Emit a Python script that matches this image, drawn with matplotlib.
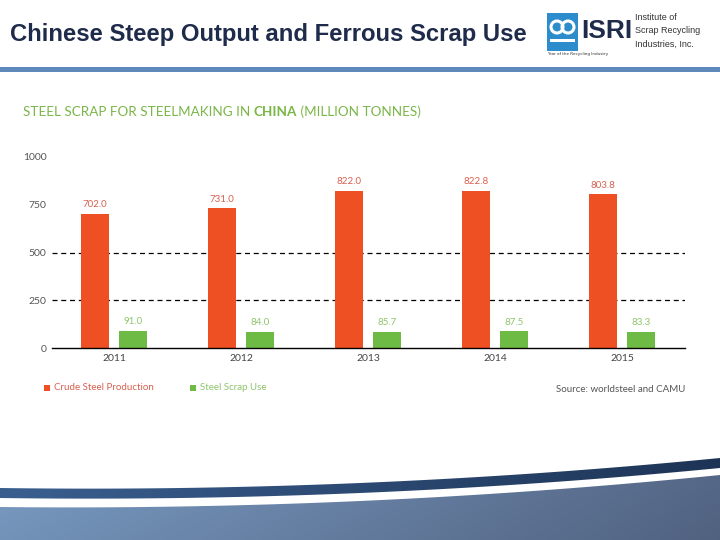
import numpy as np
import matplotlib
matplotlib.use("Agg")
import matplotlib.pyplot as plt
from matplotlib.patches import Rectangle, Circle, Polygon

# ---- data ----
years = ["2011", "2012", "2013", "2014", "2015"]
crude_steel = [702.0, 731.0, 822.0, 822.8, 803.8]
scrap_use = [91.0, 84.0, 85.7, 87.5, 83.3]
crude_labels = ["702.0", "731.0", "822.0", "822.8", "803.8"]
scrap_labels = ["91.0", "84.0", "85.7", "87.5", "83.3"]
y_ticks = [0, 250, 500, 750, 1000]
grid_vals = [250, 500]

RED = "#ee4f23"
GREEN = "#6dbb45"
RED_TXT = "#d8604f"
GREEN_TXT = "#8dc56b"
NAVY = "#1f2b4a"

W, H = 720, 540
fig = plt.figure(figsize=(7.2, 5.4), dpi=100)
fig.patch.set_facecolor("white")

# overlay axes in pixel coordinates for page decorations
bg = fig.add_axes([0, 0, 1, 1], zorder=0)
bg.set_xlim(0, W)
bg.set_ylim(H, 0)
bg.axis("off")

# header title
fig.text(10 / W, 1 - 35 / H, "Chinese Steep Output and Ferrous Scrap Use",
         fontsize=17.2, fontweight="bold", color=NAVY, family="Liberation Sans",
         va="center", ha="left")

# logo
bg.add_patch(Rectangle((547, 13), 31, 38, facecolor="#2c8ccc", edgecolor="none"))
bg.add_patch(Circle((557, 27), 6, facecolor="none", edgecolor="white", lw=2.2))
bg.add_patch(Circle((568, 27), 6, facecolor="none", edgecolor="white", lw=2.2))
bg.add_patch(Rectangle((550, 39), 25, 2.5, facecolor="white", edgecolor="none"))
fig.text(581 / W, 1 - 31 / H, "ISRI", fontsize=19, fontweight="bold",
         color=NAVY, family=["Liberation Sans Narrow", "Liberation Sans"],
         va="center", ha="left")
fig.text(547 / W, 1 - 54 / H, "Year of the Recycling Industry", fontsize=3,
         color="#333333", va="center", ha="left")
for i, line in enumerate(["Institute of", "Scrap Recycling", "Industries, Inc."]):
    fig.text(635 / W, 1 - (18 + 13 * i) / H, line, fontsize=6.5, color="#333333",
             family="Liberation Sans", va="center", ha="left")

# blue rule under header
bg.add_patch(Rectangle((0, 67), W, 5, facecolor="#5f88bb", edgecolor="none"))

# bottom swoosh
xs = np.linspace(0, W, 200)
t = xs / W
band_top = 488 + 10 * t - 40 * t ** 2
band_bot = band_top + 10
low_top = 507 + 8 * t - 40 * t ** 2

gx = np.linspace(0, 1, 300)
gy = np.linspace(0, 1, 60)
GX, GY = np.meshgrid(gx, gy)
c_left = np.array([122, 156, 196]) / 255
c_right = np.array([86, 104, 136]) / 255
img = c_left[None, None, :] * (1 - GX[..., None]) + c_right[None, None, :] * GX[..., None]
img = img * (1 - 0.06 * (1 - GY[..., None]))
im = bg.imshow(img, extent=(0, W, 470, H), aspect="auto", zorder=1)
poly = Polygon(np.vstack([np.column_stack([xs, low_top]), [[W, H], [0, H]]]),
               closed=True, transform=bg.transData, facecolor="none", edgecolor="none")
bg.add_patch(poly)
im.set_clip_path(poly)

c_bl = np.array([58, 95, 143]) / 255
c_br = np.array([30, 52, 86]) / 255
img2 = c_bl[None, None, :] * (1 - GX[..., None]) + c_br[None, None, :] * GX[..., None]
im2 = bg.imshow(img2, extent=(0, W, 450, 505), aspect="auto", zorder=1)
poly2 = Polygon(np.vstack([np.column_stack([xs, band_top]),
                           np.column_stack([xs[::-1], band_bot[::-1]])]),
                closed=True, transform=bg.transData, facecolor="none", edgecolor="none")
bg.add_patch(poly2)
im2.set_clip_path(poly2)
bg.set_xlim(0, W)
bg.set_ylim(H, 0)

# ---- chart ----
ax = fig.add_axes([52 / W, 1 - 348 / H, (685 - 52) / W, (348 - 157) / H], zorder=2)
ax.patch.set_alpha(0)
x = np.arange(len(years))
bw = 0.22
off = 0.15
ax.bar(x - off, crude_steel, bw, color=RED, zorder=3)
ax.bar(x + off, scrap_use, bw, color=GREEN, zorder=3)
for xi, v, lab in zip(x, crude_steel, crude_labels):
    ax.text(xi - off, v + 25, lab, ha="center", va="bottom", fontsize=7,
            color=RED_TXT, family="Lato")
for xi, v, lab in zip(x, scrap_use, scrap_labels):
    ax.text(xi + off, v + 25, lab, ha="center", va="bottom", fontsize=7,
            color=GREEN_TXT, family="Lato")
for g in grid_vals:
    ax.axhline(g, color="black", lw=0.9, ls=(0, (4, 3)), zorder=1)
ax.set_xlim(-0.488, 4.496)
ax.set_ylim(0, 1000)
ax.set_yticks(y_ticks)
ax.set_yticklabels([str(v) for v in y_ticks], fontsize=7.5, color="#555555", family="Lato")
ax.set_xticks(x)
ax.set_xticklabels(years, fontsize=7.5, color="#444444", family="Lato")
ax.tick_params(axis="both", length=0)
ax.tick_params(axis="y", pad=4)
ax.tick_params(axis="x", pad=4)
for s in ["top", "right", "left"]:
    ax.spines[s].set_visible(False)
ax.spines["bottom"].set_color("black")
ax.spines["bottom"].set_linewidth(1.0)
ax.spines["bottom"].set_zorder(4)

# chart title (mixed weight)
fig.canvas.draw()
renderer = fig.canvas.get_renderer()
parts = [("STEEL SCRAP FOR STEELMAKING IN ", "normal"), ("CHINA", "bold"),
         (" (MILLION TONNES)", "normal")]
cur_x = 23 / W
for txt, wt in parts:
    tobj = fig.text(cur_x, 1 - 112 / H, txt, fontsize=9.7, color="#7ab648",
                    fontweight=wt, family="Lato", va="center", ha="left")
    bb = tobj.get_window_extent(renderer)
    cur_x = bb.x1 / W

# legend
bg.add_patch(Rectangle((44, 385), 6, 6, facecolor=RED, edgecolor="none", zorder=3))
fig.text(54 / W, 1 - 388 / H, "Crude Steel Production", fontsize=7, color=RED_TXT,
         family="Lato", va="center", ha="left")
bg.add_patch(Rectangle((190, 385), 6, 6, facecolor=GREEN, edgecolor="none", zorder=3))
fig.text(200 / W, 1 - 388 / H, "Steel Scrap Use", fontsize=7, color=GREEN_TXT,
         family="Lato", va="center", ha="left")
fig.text(685 / W, 1 - 389 / H, "Source: worldsteel and CAMU", fontsize=7,
         color="#555555", family="Lato", va="center", ha="right")

fig.savefig("out.png", dpi=100, facecolor="white")
